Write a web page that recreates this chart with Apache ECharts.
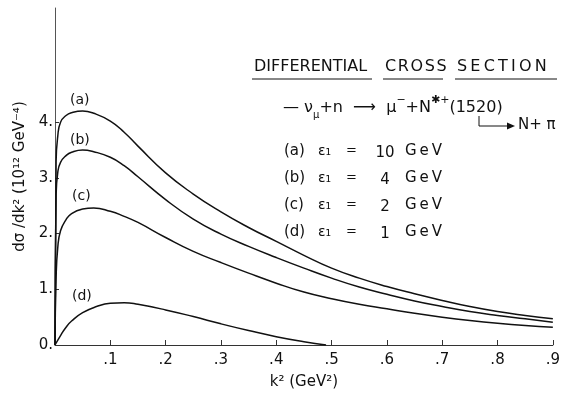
<!DOCTYPE html>
<html>
<head>
<meta charset="utf-8">
<script src="https://cdn.jsdelivr.net/npm/echarts@6.0.0/dist/echarts.min.js"></script>
<style>
  html, body { margin: 0; padding: 0; background: #fff; }
  #chart { width: 563px; height: 396px; }
</style>
</head>
<body>
<div id="chart"></div>
<script>
// k^2 sample points (GeV^2) for curves a, b, c
const kGrid = [0, 0.002, 0.005, 0.01, 0.02, 0.03, 0.05, 0.07, 0.1, 0.125, 0.15, 0.2, 0.25, 0.3, 0.35, 0.4, 0.45, 0.5, 0.55, 0.6, 0.65, 0.7, 0.75, 0.8, 0.85, 0.9];
// dσ/dk²
const curveA = [0, 3.3, 3.75, 4.0, 4.12, 4.17, 4.2, 4.16, 4.02, 3.82, 3.57, 3.09, 2.71, 2.39, 2.11, 1.86, 1.61, 1.38, 1.2, 1.05, 0.92, 0.8, 0.69, 0.6, 0.53, 0.47];
const curveB = [0, 2.7, 3.1, 3.28, 3.4, 3.46, 3.5, 3.47, 3.37, 3.22, 3.02, 2.61, 2.26, 1.99, 1.77, 1.57, 1.38, 1.2, 1.04, 0.91, 0.79, 0.69, 0.6, 0.53, 0.47, 0.41];
const curveC = [0, 1.2, 1.75, 2.05, 2.25, 2.36, 2.44, 2.46, 2.4, 2.31, 2.2, 1.93, 1.68, 1.48, 1.29, 1.11, 0.95, 0.83, 0.73, 0.65, 0.57, 0.5, 0.44, 0.39, 0.35, 0.32];
// curve d stops at threshold
const kGridD = [0, 0.01, 0.02, 0.03, 0.05, 0.075, 0.1, 0.125, 0.15, 0.2, 0.25, 0.3, 0.35, 0.4, 0.45, 0.49];
const curveD = [0, 0.17, 0.32, 0.43, 0.58, 0.69, 0.75, 0.76, 0.73, 0.63, 0.51, 0.38, 0.26, 0.15, 0.06, 0];

const yTicks = [0, 1, 2, 3, 4];
const curveNames = ['(a)', '(b)', '(c)', '(d)'];
const energies = ['10', '4', '2', '1'];

const font = 'DejaVu Sans';
const ink = '#111';

function pairs(xs, ys) {
    return xs.map((x, i) => [x, ys[i]]);
}

function curve(name, data) {
    return {
        name: name,
        type: 'line',
        data: data,
        smooth: 0.5,
        showSymbol: false,
        lineStyle: { color: ink, width: 1.5 },
        silent: true
    };
}

let myChart = echarts.init(document.getElementById('chart'));

// legend lines on the right
let legendTexts = [];
curveNames.forEach((n, i) => {
    let y = 153 + i * 27;
    legendTexts.push(
        { type: 'text', left: 284, top: y - 9, style: { text: n, font: '15px ' + font, fill: ink } },
        { type: 'text', left: 318, top: y - 9, style: { text: 'ε₁', font: '14px ' + font, fill: ink } },
        { type: 'text', left: 346, top: y - 9, style: { text: '=', font: '13px ' + font, fill: ink } },
        { type: 'text', x: 385, y: y, style: { text: energies[i], font: '15px ' + font, fill: ink, align: 'center', verticalAlign: 'middle' } },
        { type: 'text', left: 405, top: y - 9, style: { text: 'G\u2009e\u2009V', font: '15px ' + font, fill: ink } }
    );
});

myChart.setOption({
    animation: false,
    backgroundColor: '#fff',
    grid: {
        left: 55,
        right: 7,
        top: 8,
        bottom: 51
    },
    xAxis: {
        type: 'value',
        min: 0,
        max: 0.9,
        interval: 0.1,
        name: 'k² (GeV²)',
        nameLocation: 'middle',
        nameGap: 30,
        nameTextStyle: { fontFamily: font, fontSize: 15, color: ink },
        axisLine: { show: true, lineStyle: { color: '#333', width: 1 } },
        axisTick: { show: true, inside: true, length: 5, lineStyle: { color: '#333' } },
        splitLine: { show: false },
        axisLabel: {
            fontFamily: font,
            fontSize: 15,
            color: ink,
            margin: 8,
            formatter: v => v === 0 ? '' : '.' + Math.round(v * 10)
        }
    },
    yAxis: {
        type: 'value',
        min: 0,
        max: 6.05,
        name: 'dσ /dk² (10¹² GeV⁻⁴)',
        nameLocation: 'middle',
        nameRotate: 90,
        nameGap: 26,
        nameTextStyle: { fontFamily: font, fontSize: 15, color: ink },
        axisLine: { show: true, lineStyle: { color: '#555', width: 1 } },
        axisTick: { show: true, inside: true, length: 4, customValues: yTicks, lineStyle: { color: '#333' } },
        splitLine: { show: false },
        axisLabel: {
            fontFamily: font,
            fontSize: 15,
            color: ink,
            margin: 2,
            customValues: yTicks,
            formatter: v => v + '.'
        }
    },
    series: [
        curve('(a)', pairs(kGrid, curveA)),
        curve('(b)', pairs(kGrid, curveB)),
        curve('(c)', pairs(kGrid, curveC)),
        curve('(d)', pairs(kGridD, curveD))
    ],
    graphic: [
        // curve labels
        { type: 'text', left: 70, top: 93, style: { text: '(a)', font: '14px ' + font, fill: ink } },
        { type: 'text', left: 70, top: 133, style: { text: '(b)', font: '14px ' + font, fill: ink } },
        { type: 'text', left: 72, top: 189, style: { text: '(c)', font: '14px ' + font, fill: ink } },
        { type: 'text', left: 72, top: 289, style: { text: '(d)', font: '14px ' + font, fill: ink } },
        // title, each word underlined
        { type: 'text', left: 254, top: 59, style: { text: 'DIFFERENTIAL', font: '16px ' + font, fill: ink } },
        { type: 'text', left: 385, top: 59, style: { text: 'C\u200aR\u200aO\u200aS\u200aS', font: '16px ' + font, fill: ink } },
        { type: 'text', left: 457, top: 59, style: { text: 'S\u2009E\u2009C\u2009T\u2009I\u2009O\u2009N', font: '16px ' + font, fill: ink } },
        { type: 'line', shape: { x1: 252, y1: 79, x2: 372, y2: 79 }, style: { stroke: ink, lineWidth: 1 } },
        { type: 'line', shape: { x1: 383, y1: 79, x2: 443, y2: 79 }, style: { stroke: ink, lineWidth: 1 } },
        { type: 'line', shape: { x1: 455, y1: 79, x2: 557, y2: 79 }, style: { stroke: ink, lineWidth: 1 } },
        // reaction
        {
            type: 'text',
            left: 283,
            top: 95,
            style: {
                text: '{n|— ν}{s|μ}{n|+n  ⟶  μ}{p|−}{n|+N}{p|✱+}{n|(1520)}',
                font: '16px ' + font,
                fill: ink,
                rich: {
                    n: { fontFamily: font, fontSize: 16, lineHeight: 25, verticalAlign: 'middle', fill: ink },
                    s: { fontFamily: font, fontSize: 10, verticalAlign: 'bottom', fill: ink },
                    p: { fontFamily: font, fontSize: 11, verticalAlign: 'top', fill: ink }
                }
            }
        },
        { type: 'polyline', shape: { points: [[479, 116], [479, 126], [508, 126]] }, style: { stroke: ink, lineWidth: 1, fill: null } },
        { type: 'polygon', shape: { points: [[507, 122.5], [515, 126], [507, 129.5]] }, style: { fill: ink } },
        { type: 'text', left: 518, top: 118, style: { text: 'N+ π', font: '15px ' + font, fill: ink } }
    ].concat(legendTexts)
});
</script>
</body>
</html>
